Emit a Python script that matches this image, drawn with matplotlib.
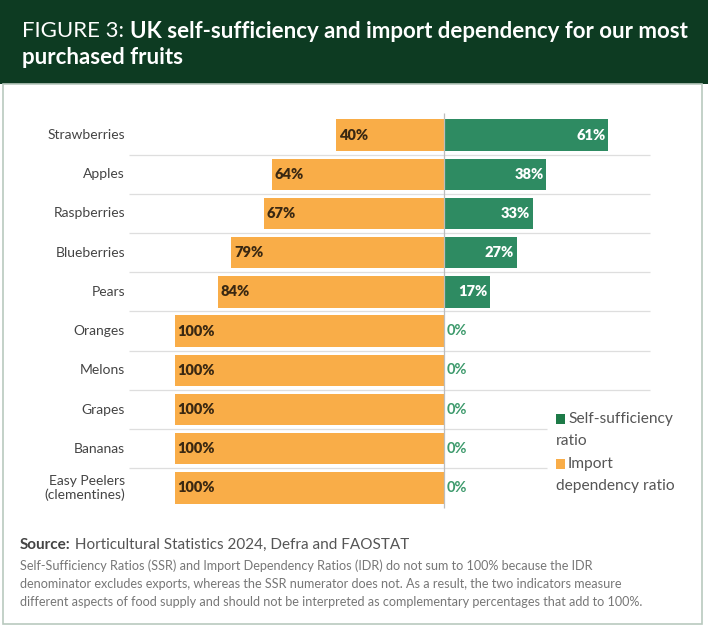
import matplotlib
matplotlib.use("Agg")
import matplotlib.pyplot as plt
from matplotlib.patches import Rectangle

plt.rcParams['font.family'] = ['Lato', 'DejaVu Sans']

categories = ["Strawberries", "Apples", "Raspberries", "Blueberries", "Pears",
              "Oranges", "Melons", "Grapes", "Bananas", "Easy Peelers\n(clementines)"]
ssr = [61, 38, 33, 27, 17, 0, 0, 0, 0, 0]
idr = [40, 64, 67, 79, 84, 100, 100, 100, 100, 100]

title_prefix = "FIGURE 3: "
title_bold_1 = "UK self-sufficiency and import dependency for our most"
title_bold_2 = "purchased fruits"
legend_labels = [("Self-sufficiency", "ratio"), ("Import", "dependency ratio")]
source_bold = "Source:"
source_text = " Horticultural Statistics 2024, Defra and FAOSTAT"
note_lines = [
    "Self-Sufficiency Ratios (SSR) and Import Dependency Ratios (IDR) do not sum to 100% because the IDR",
    "denominator excludes exports, whereas the SSR numerator does not. As a result, the two indicators measure",
    "different aspects of food supply and should not be interpreted as complementary percentages that add to 100%.",
]

GREEN_HEAD = "#0D3B22"
GREEN_BAR = "#2E8B62"
GREEN_LEG = "#1D7A47"
ORANGE = "#F9AD48"
DARK_LBL = "#3A2812"

W, H = 708, 628
fig = plt.figure(figsize=(W / 100, H / 100), dpi=100)

def fx(px):
    return px / W

def fy(py):
    return 1 - py / H

# header band
fig.patches.append(Rectangle((0, fy(84)), 1, 84 / H, transform=fig.transFigure,
                             facecolor=GREEN_HEAD, edgecolor="none", zorder=0))
# panel border
fig.patches.append(Rectangle((fx(2.5), fy(624)), fx(702) - fx(2.5), fy(84) - fy(624),
                             transform=fig.transFigure, facecolor="none",
                             edgecolor="#B9C9BF", linewidth=1.2, zorder=0))

# axes: px 100..680 horizontally, 105..515 vertically
scale = 2.69  # px per percent
x_left_px, x_right_px, zero_px = 100, 680, 444
y_top_px, y_bot_px, row0_px, row_step = 105, 515, 135, 39.22
ax = fig.add_axes([fx(x_left_px), fy(y_bot_px), fx(x_right_px) - fx(x_left_px),
                   fy(y_top_px) - fy(y_bot_px)])
ax.set_xlim((x_left_px - zero_px) / scale, (x_right_px - zero_px) / scale)
ax.set_ylim((y_bot_px - row0_px) / row_step, (y_top_px - row0_px) / row_step)
ax.axis("off")

n = len(categories)
ypos = list(range(n))
ax.barh(ypos, [-v for v in idr], height=0.8, color=ORANGE, zorder=2)
ax.barh(ypos, ssr, height=0.8, color=GREEN_BAR, zorder=2)

gx0 = (129 - zero_px) / scale
gx1 = (650 - zero_px) / scale
gx1_short = (547 - zero_px) / scale
for i in range(n - 1):
    end = gx1_short if i >= 7 else gx1
    ax.hlines(i + 0.5, gx0, end, color="#DEDEDE", linewidth=0.9, zorder=1)
ax.vlines(0, -0.56, 9.5, color="#BDBDBD", linewidth=0.9, zorder=3)

lbl_x = (125 - zero_px) / scale
for i, cat in enumerate(categories):
    ax.text(lbl_x, i, cat, ha="right", va="center", fontsize=10, color="#444444",
            multialignment="right", linespacing=1.15)
    ax.text(-idr[i] + 0.9, i, f"{idr[i]}%", ha="left", va="center", fontsize=10.5,
            fontweight="heavy", color=DARK_LBL, zorder=4)
    if ssr[i] > 0:
        ax.text(ssr[i] - 0.9, i, f"{ssr[i]}%", ha="right", va="center", fontsize=10.5,
                fontweight="heavy", color="white", zorder=4)
    else:
        ax.text(1.0, i, f"{ssr[i]}%", ha="left", va="center", fontsize=10.5,
                fontweight="bold", color="#3D9A6C", zorder=4)

# legend (manual, wrapped text)
leg_colors = [GREEN_LEG, ORANGE]
leg_y = [419, 464]
for (l1, l2), c, yy in zip(legend_labels, leg_colors, leg_y):
    fig.patches.append(Rectangle((fx(556), fy(yy + 5)), 9 / W, 10 / H,
                                 transform=fig.transFigure, facecolor=c, edgecolor="none"))
    fig.text(fx(568), fy(yy), l1, ha="left", va="center", fontsize=11.2, color="#555555")
    fig.text(fx(556), fy(yy + 22), l2, ha="left", va="center", fontsize=11.2, color="#555555")

renderer = fig.canvas.get_renderer()

# title
t1 = fig.text(fx(22), fy(31), title_prefix, ha="left", va="center", fontsize=16,
              color="white", fontweight="normal")
bb = t1.get_window_extent(renderer)
fig.text(bb.x1 / W, fy(31), title_bold_1, ha="left", va="center", fontsize=16,
         color="white", fontweight="bold")
fig.text(fx(22), fy(57), title_bold_2, ha="left", va="center", fontsize=16,
         color="white", fontweight="bold")

# source
s1 = fig.text(fx(20), fy(545), source_bold, ha="left", va="center", fontsize=11,
              color="#444444", fontweight="bold")
bb = s1.get_window_extent(renderer)
fig.text(bb.x1 / W, fy(545), source_text, ha="left", va="center", fontsize=11,
         color="#555555")
for k, line in enumerate(note_lines):
    fig.text(fx(20), fy(566 + 18 * k), line, ha="left", va="center", fontsize=9.1,
             color="#777777")

fig.savefig("out.png", dpi=100, facecolor="white")
